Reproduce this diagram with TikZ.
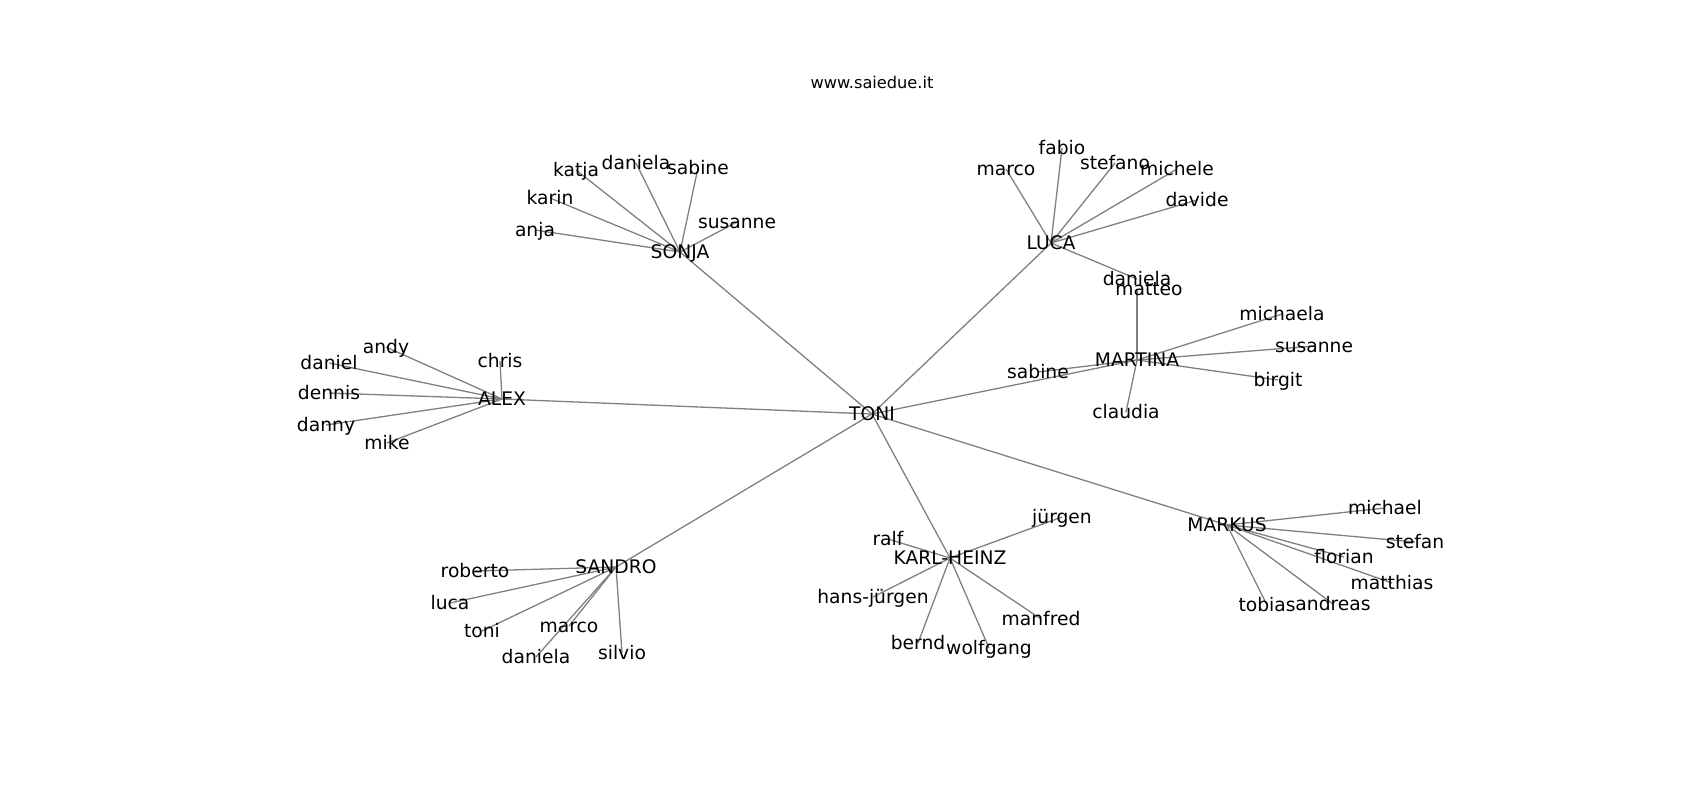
\documentclass[tikz,border=0pt]{standalone}
\usepackage{fontspec}
\setmainfont{DejaVu Sans}
\usetikzlibrary{backgrounds}

\tikzset{
  person/.style={inner sep=0pt, text height=0.8em, text depth=0.2em,
    font=\fontsize{9.35}{11}\selectfont},
  link/.style={draw=black!50, line width=0.65pt},
}

\begin{document}
\begin{tikzpicture}[x=0.5pt, y=-0.5pt]
    \useasboundingbox (0,0) rectangle (1700,800);
    \node[inner sep=0pt, font=\fontsize{8.1}{10}\selectfont] (title) at (872,82) {www.saiedue.it};

    % Hubs
    \node[person] (toni) at (872,414) {TONI};
    \node[person] (sonja) at (680,252) {SONJA};
    \node[person] (alex) at (502,399) {ALEX};
    \node[person] (luca) at (1051,243) {LUCA};
    \node[person] (martina) at (1137,360) {MARTINA};
    \node[person] (sandro) at (616,567) {SANDRO};
    \node[person] (kh) at (950,558) {KARL-HEINZ};
    \node[person] (markus) at (1227,525) {MARKUS};

    % Sonja
    \node[person] (so-anja) at (535,230) {anja};
    \node[person] (so-karin) at (550,198) {karin};
    \node[person] (so-katja) at (576,170) {katja};
    \node[person] (so-daniela) at (636,163) {daniela};
    \node[person] (so-sabine) at (698,168) {sabine};
    \node[person] (so-susanne) at (737,222) {susanne};

    % Alex
    \node[person] (al-andy) at (386,347) {andy};
    \node[person] (al-daniel) at (329,363) {daniel};
    \node[person] (al-chris) at (500,361) {chris};
    \node[person] (al-dennis) at (329,393) {dennis};
    \node[person] (al-danny) at (326,425) {danny};
    \node[person] (al-mike) at (387,443) {mike};

    % Luca
    \node[person] (lu-marco) at (1006,169) {marco};
    \node[person] (lu-fabio) at (1062,148) {fabio};
    \node[person] (lu-stefano) at (1115,163) {stefano};
    \node[person] (lu-michele) at (1177,169) {michele};
    \node[person] (lu-davide) at (1197,200) {davide};
    \node[person] (lu-daniela) at (1137,279) {daniela};

    % Martina
    \node[person] (ma-matteo) at (1149,289) {matteo};
    \node[person] (ma-michaela) at (1282,314) {michaela};
    \node[person] (ma-susanne) at (1314,346) {susanne};
    \node[person] (ma-birgit) at (1278,380) {birgit};
    \node[person] (ma-claudia) at (1126,412) {claudia};
    \node[person] (ma-sabine) at (1038,372) {sabine};

    % Sandro
    \node[person] (sa-roberto) at (475,571) {roberto};
    \node[person] (sa-luca) at (450,603) {luca};
    \node[person] (sa-toni) at (482,631) {toni};
    \node[person] (sa-marco) at (569,626) {marco};
    \node[person] (sa-daniela) at (536,657) {daniela};
    \node[person] (sa-silvio) at (622,653) {silvio};

    % Karl-Heinz
    \node[person] (kh-ralf) at (888,539) {ralf};
    \node[person] (kh-juergen) at (1062,517) {jürgen};
    \node[person] (kh-hans) at (873,597) {hans-jürgen};
    \node[person] (kh-manfred) at (1041,619) {manfred};
    \node[person] (kh-bernd) at (918,643) {bernd};
    \node[person] (kh-wolfgang) at (989,648) {wolfgang};

    % Markus
    \node[person] (mk-michael) at (1385,508) {michael};
    \node[person] (mk-stefan) at (1415,542) {stefan};
    \node[person] (mk-florian) at (1344,557) {florian};
    \node[person] (mk-matthias) at (1392,583) {matthias};
    \node[person] (mk-tobias) at (1267,605) {tobias};
    \node[person] (mk-andreas) at (1333,604) {andreas};

    % Edges
    \begin{scope}[on background layer]
    \foreach \h in {sonja,alex,luca,martina,sandro,kh,markus}
      \draw[link] (toni.center) -- (\h.center);
    \foreach \l in {anja,karin,katja,daniela,sabine,susanne}
      \draw[link] (sonja.center) -- (so-\l.center);
    \foreach \l in {andy,daniel,chris,dennis,danny,mike}
      \draw[link] (alex.center) -- (al-\l.center);
    \foreach \l in {marco,fabio,stefano,michele,davide,daniela}
      \draw[link] (luca.center) -- (lu-\l.center);
    \draw[link] (martina.center) -- (martina.center |- ma-matteo.center);
    \foreach \l in {michaela,susanne,birgit,claudia,sabine}
      \draw[link] (martina.center) -- (ma-\l.center);
    \foreach \l in {roberto,luca,toni,marco,daniela,silvio}
      \draw[link] (sandro.center) -- (sa-\l.center);
    \foreach \l in {ralf,juergen,hans,manfred,bernd,wolfgang}
      \draw[link] (kh.center) -- (kh-\l.center);
    \foreach \l in {michael,stefan,florian,matthias,tobias,andreas}
      \draw[link] (markus.center) -- (mk-\l.center);
    \end{scope}
\end{tikzpicture}
\end{document}
